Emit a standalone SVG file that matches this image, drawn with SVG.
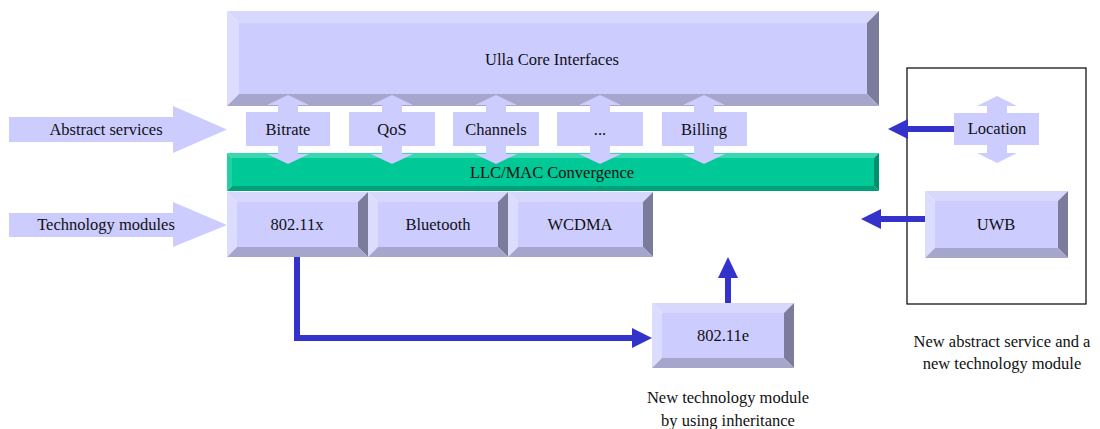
<svg xmlns="http://www.w3.org/2000/svg" width="1100" height="429" viewBox="0 0 1100 429">
  <defs>
    <style>
      text { font-family: 'Liberation Serif', 'DejaVu Serif', 'Noto Serif', Times, serif; font-size: 16.5px; fill: #111; text-anchor: middle; }
      .face { fill: #ccccff; }
      .bt { fill: #d8d8fc; }
      .bl { fill: #dcdcff; }
      .br { fill: #7b7b9c; }
      .bb { fill: #a6a6cc; }
      .gface { fill: #00c896; }
      .gbt { fill: #3ad8ae; }
      .gbl { fill: #22d0a2; }
      .gbr { fill: #00906c; }
      .gbb { fill: #00a07a; }
      .flat { fill: #ccccff; }
      .conn { stroke: #3333cc; stroke-width: 6; fill: none; }
      .head { fill: #3333cc; }
      .frame { fill: none; stroke: #000; stroke-width: 1.2; }
    </style>
  </defs>

  <rect width="1100" height="429" fill="#ffffff"/>

  <!-- input arrows on the left -->
  <g id="abstract-services">
    <polygon class="flat" points="9,117 173,117 173,106 227,129.5 173,153 173,142 9,142"/>
    <text x="106" y="135">Abstract services</text>
  </g>
  <g id="technology-modules">
    <polygon class="flat" points="9,213 173,213 173,202 227,225 173,247 173,237 9,237"/>
    <text x="106" y="230">Technology modules</text>
  </g>

  <!-- core interfaces block -->
  <g id="ulla-core">
    <rect class="face" x="239" y="23" width="628" height="71"/>
    <polygon class="bt" points="227,11 879,11 867,23 239,23"/>
    <polygon class="bl" points="227,11 239,23 239,94 227,106"/>
    <polygon class="br" points="879,11 879,106 867,94 867,23"/>
    <polygon class="bb" points="227,106 879,106 867,94 239,94"/>
    <text x="552" y="65">Ulla Core Interfaces</text>
  </g>

  <!-- convergence layer -->
  <g id="llc-mac">
    <rect class="gface" x="232" y="158" width="642" height="28"/>
    <polygon class="gbt" points="227,153 879,153 874,158 232,158"/>
    <polygon class="gbl" points="227,153 232,158 232,186 227,191"/>
    <polygon class="gbr" points="879,153 879,191 874,186 874,158"/>
    <polygon class="gbb" points="227,191 879,191 874,186 232,186"/>
  </g>

  <!-- abstract services with two-way arrows -->
  <g id="bitrate">
    <polygon class="flat" points="288,95 309,105 298,105 298,154 309,154 288,164 267,154 278,154 278,105 267,105"/>
    <rect class="flat" x="246" y="112" width="84" height="34"/>
    <text x="288" y="135">Bitrate</text>
  </g>
  <g id="qos">
    <polygon class="flat" points="392,95 413,105 402,105 402,154 413,154 392,164 371,154 382,154 382,105 371,105"/>
    <rect class="flat" x="349" y="112" width="86" height="34"/>
    <text x="392" y="135">QoS</text>
  </g>
  <g id="channels">
    <polygon class="flat" points="496,95 517,105 506,105 506,154 517,154 496,164 475,154 486,154 486,105 475,105"/>
    <rect class="flat" x="453" y="112" width="86" height="34"/>
    <text x="496" y="135">Channels</text>
  </g>
  <g id="more">
    <polygon class="flat" points="600,95 621,105 610,105 610,154 621,154 600,164 579,154 590,154 590,105 579,105"/>
    <rect class="flat" x="557" y="112" width="86" height="34"/>
    <text x="600" y="135">...</text>
  </g>
  <g id="billing">
    <polygon class="flat" points="704,95 725,105 714,105 714,154 725,154 704,164 683,154 694,154 694,105 683,105"/>
    <rect class="flat" x="662" y="112" width="85" height="34"/>
    <text x="704" y="135">Billing</text>
  </g>

  <g id="llc-mac-label">
    <text x="552" y="178">LLC/MAC Convergence</text>
  </g>

  <!-- technology modules -->
  <g id="m80211x">
    <rect class="face" x="237" y="202" width="121" height="45"/>
    <polygon class="bt" points="227,192 368,192 358,202 237,202"/>
    <polygon class="bl" points="227,192 237,202 237,247 227,257"/>
    <polygon class="br" points="368,192 368,257 358,247 358,202"/>
    <polygon class="bb" points="227,257 368,257 358,247 237,247"/>
    <text x="297" y="230">802.11x</text>
  </g>
  <g id="bluetooth">
    <rect class="face" x="378" y="202" width="120" height="45"/>
    <polygon class="bt" points="368,192 508,192 498,202 378,202"/>
    <polygon class="bl" points="368,192 378,202 378,247 368,257"/>
    <polygon class="br" points="508,192 508,257 498,247 498,202"/>
    <polygon class="bb" points="368,257 508,257 498,247 378,247"/>
    <text x="438" y="230">Bluetooth</text>
  </g>
  <g id="wcdma">
    <rect class="face" x="518" y="202" width="125" height="45"/>
    <polygon class="bt" points="508,192 653,192 643,202 518,202"/>
    <polygon class="bl" points="508,192 518,202 518,247 508,257"/>
    <polygon class="br" points="653,192 653,257 643,247 643,202"/>
    <polygon class="bb" points="508,257 653,257 643,247 518,247"/>
    <text x="580" y="230">WCDMA</text>
  </g>
  <g id="m80211e">
    <rect class="face" x="662" y="313" width="122" height="45"/>
    <polygon class="bt" points="652,303 794,303 784,313 662,313"/>
    <polygon class="bl" points="652,303 662,313 662,358 652,368"/>
    <polygon class="br" points="794,303 794,368 784,358 784,313"/>
    <polygon class="bb" points="652,368 794,368 784,358 662,358"/>
    <text x="723" y="341">802.11e</text>
  </g>

  <!-- new service and module -->
  <g id="extension-frame">
    <rect class="frame" x="907" y="68" width="179" height="236"/>
  </g>
  <g id="location">
    <polygon class="flat" points="997,96 1017,106 1007,106 1007,153 1017,153 997,163 977,153 987,153 987,106 977,106"/>
    <rect class="flat" x="954" y="113" width="85" height="32"/>
    <text x="997" y="134">Location</text>
  </g>
  <g id="uwb">
    <rect class="face" x="935" y="201" width="123" height="47"/>
    <polygon class="bt" points="925,191 1068,191 1058,201 935,201"/>
    <polygon class="bl" points="925,191 935,201 935,248 925,258"/>
    <polygon class="br" points="1068,191 1068,258 1058,248 1058,201"/>
    <polygon class="bb" points="925,258 1068,258 1058,248 935,248"/>
    <text x="996" y="230">UWB</text>
  </g>

  <!-- connectors -->
  <g id="connectors">
    <line class="conn" x1="954" y1="129" x2="904" y2="129"/>
    <polygon class="head" points="888,129 908,119 908,139"/>
    <line class="conn" x1="925" y1="219" x2="877" y2="219"/>
    <polygon class="head" points="861,219 881,209 881,229"/>
    <path class="conn" d="M297,257 V338 H636"/>
    <polygon class="head" points="652,338 632,328 632,348"/>
    <line class="conn" x1="728" y1="303" x2="728" y2="275"/>
    <polygon class="head" points="728,257 718,278 738,278"/>
  </g>

  <!-- captions -->
  <g id="captions">
    <text x="728" y="403">New technology module</text>
    <text x="728" y="426">by using inheritance</text>
    <text x="1002" y="347">New abstract service and a</text>
    <text x="1002" y="369">new technology module</text>
  </g>
</svg>
